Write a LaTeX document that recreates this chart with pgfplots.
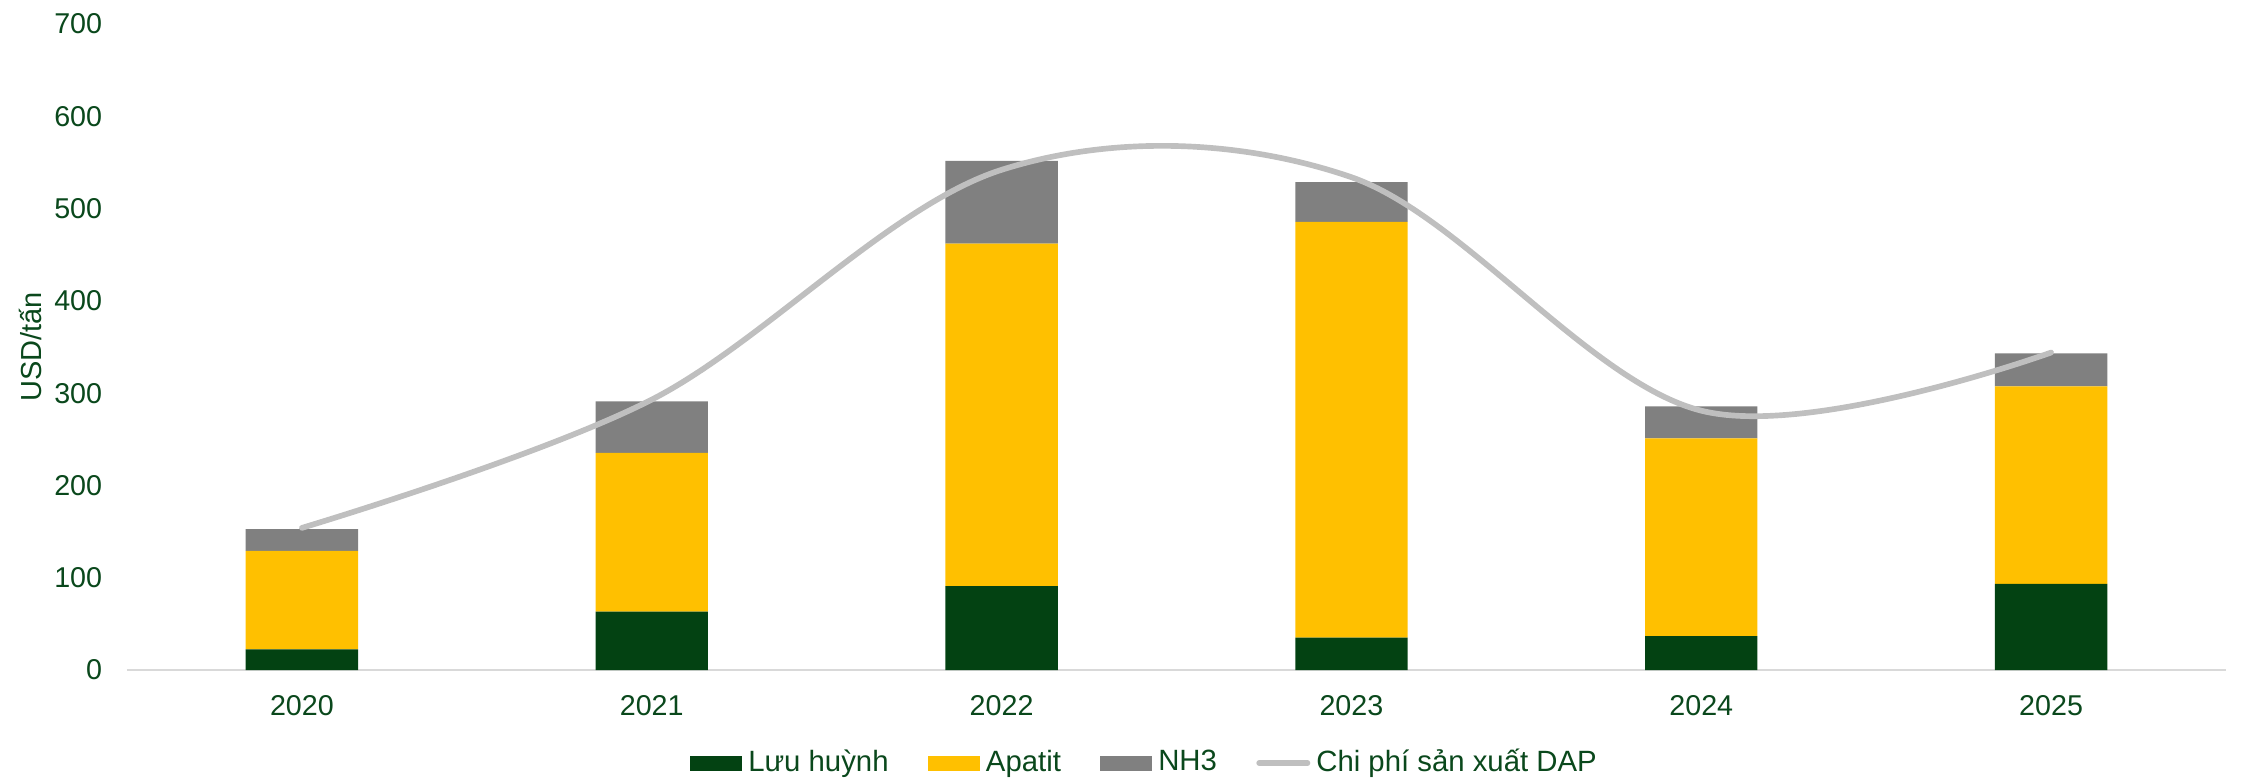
\documentclass[border=0pt]{standalone}
\usepackage{pgfplots}
\pgfplotsset{compat=1.18}
\usepackage{fontspec}
\setmainfont{Liberation Sans}
\definecolor{cgreen}{RGB}{3,66,18}
\definecolor{cyellow}{RGB}{255,192,0}
\definecolor{cgray}{RGB}{128,128,128}
\definecolor{cline}{RGB}{191,191,191}
\definecolor{ctext}{RGB}{10,72,28}
\definecolor{caxis}{RGB}{217,217,217}
\begin{document}
\begin{tikzpicture}
\useasboundingbox (-38.1pt,-32.7pt) rectangle (639.6pt,201pt);
\begin{axis}[
  at={(0pt,0pt)}, anchor=south west,
  scale only axis, width=629.7pt, height=193.8pt,
  ybar stacked, bar width=33.7pt,
  xmin=-0.5, xmax=5.5, ymin=0, ymax=700,
  xtick={0,1,2,3,4,5},
  xticklabels={2020,2021,2022,2023,2024,2025},
  ytick={0,100,...,700},
  axis x line=bottom, axis y line=left,
  x axis line style={draw=caxis, line width=0.6pt, -},
  y axis line style={draw=none},
  major tick style={draw=none},
  /pgf/number format/assume math mode=true,
  tick label style={font=\fontsize{8.6}{10}\selectfont, text=ctext},
  yticklabel style={xshift=-1.8pt},
  xticklabel style={yshift=-2pt},
  ylabel={USD/tấn},
  ylabel style={at={(axis description cs:-0.0462,0.5)}, anchor=center, font=\fontsize{8.7}{10}\selectfont, text=ctext},
  legend columns=4,
  legend style={at={(axis description cs:0.4843,0)}, anchor=center, yshift=-27.9pt, draw=none, fill=none,
    font=\fontsize{8.8}{10}\selectfont, text=ctext,
    /tikz/every even column/.append style={column sep=11.8pt},
    /tikz/every odd column/.append style={column sep=1.8pt},
    nodes={inner sep=0pt}},
]
\addplot[fill=cgreen, draw=none, legend image code/.code={\fill[cgreen] (0pt,-2.25pt) rectangle (15.6pt,2.25pt);}] coordinates {(0,22.4) (1,63.2) (2,90.8) (3,35.2) (4,36.8) (5,93.4)};
\addlegendentry{Lưu huỳnh}
\addplot[fill=cyellow, draw=none, legend image code/.code={\fill[cyellow] (0pt,-2.25pt) rectangle (15.6pt,2.25pt);}] coordinates {(0,106.8) (1,172.2) (2,371.1) (3,450.3) (4,214.2) (5,214.0)};
\addlegendentry{Apatit}
\addplot[fill=cgray, draw=none, legend image code/.code={\fill[cgray] (0pt,-2.25pt) rectangle (15.6pt,2.25pt);}] coordinates {(0,23.5) (1,55.6) (2,89.7) (3,43.3) (4,34.7) (5,35.6)};
\addlegendentry{NH3}
\addlegendimage{legend image code/.code={\draw[cline, line width=1.7pt, line cap=round] (0.85pt,0pt) -- (15.35pt,0pt);}}
\addlegendentry{Chi phí sản xuất DAP}
\end{axis}
\begin{axis}[
  at={(0pt,0pt)}, anchor=south west,
  scale only axis, width=629.7pt, height=193.8pt,
  xmin=-0.5, xmax=5.5, ymin=0, ymax=700,
  hide axis, clip=false,
]
\addplot[cline, line width=1.7pt, line cap=round, smooth, tension=0.57, mark=none] coordinates {(0,154) (1,293) (2,542) (3,534) (4,281) (5,344)};
\end{axis}
\end{tikzpicture}
\end{document}
